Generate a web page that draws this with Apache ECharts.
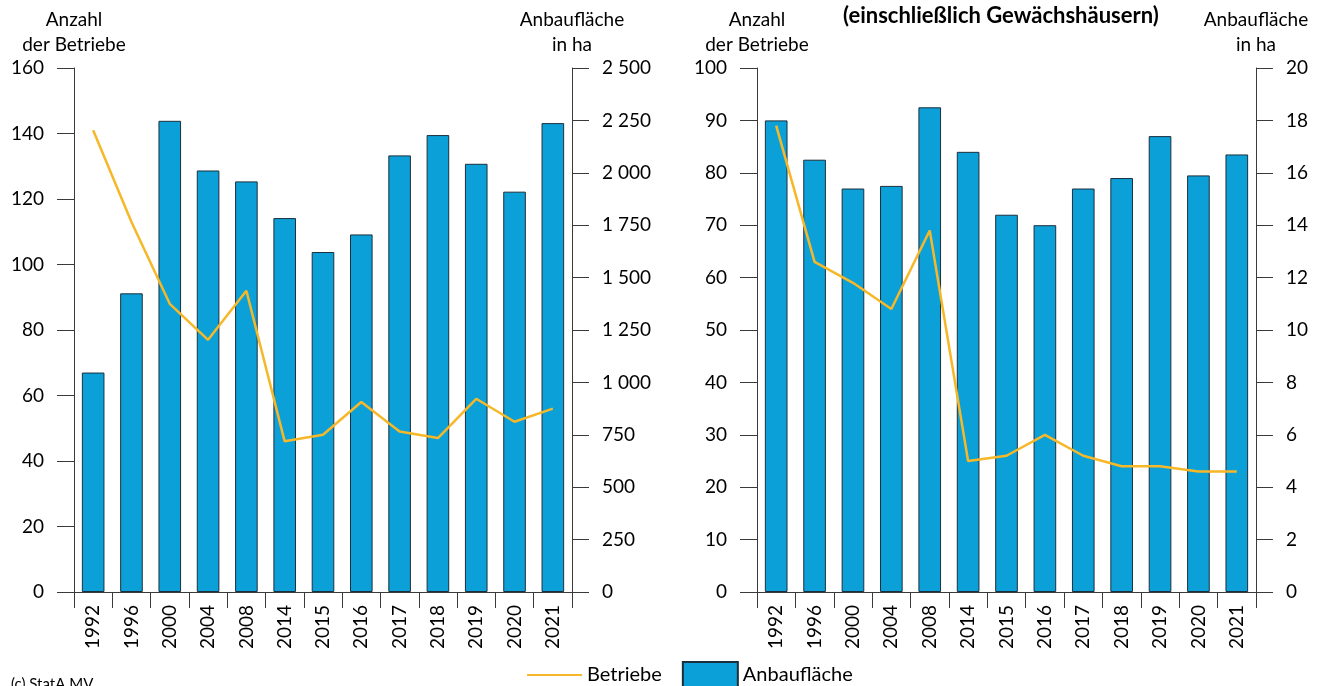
<!DOCTYPE html>
<html>
<head>
<meta charset="utf-8">
<script src="https://cdn.jsdelivr.net/npm/echarts@6/dist/echarts.min.js"></script>
<style>
  html, body { margin: 0; padding: 0; background: #fff; }
  #chart { width: 1331px; height: 686px; }
</style>
</head>
<body>
<div id="chart"></div>
<script>
// Jahre (Kategorien)
const years = ['1992', '1996', '2000', '2004', '2008', '2014', '2015', '2016', '2017', '2018', '2019', '2020', '2021']

// linkes Diagramm: Gemüse im Freiland
const betriebeLinks = [141, 113, 88, 77, 92, 46, 48, 58, 49, 47, 59, 52, 56]
const flaecheLinks = [1047, 1425, 2248, 2011, 1959, 1784, 1622, 1706, 2083, 2180, 2043, 1910, 2237]

// rechtes Diagramm: einschließlich Gewächshäusern
const betriebeRechts = [89, 63, 59, 54, 69, 25, 26, 30, 26, 24, 24, 23, 23]
const flaecheRechts = [18.0, 16.5, 15.4, 15.5, 18.5, 16.8, 14.4, 14.0, 15.4, 15.8, 17.4, 15.9, 16.7]

const FONT = 'Lato'
const BAR_COLOR = '#0ba1d8'
const LINE_COLOR = '#f6b728'
const AXIS_COLOR = '#3a3a3a'

// Tausendertrennzeichen mit Leerzeichen
function fmtThousands(v) {
  return String(v).replace(/\B(?=(\d{3})+(?!\d))/g, ' ')
}

function xAxisFor(gridIndex) {
  return {
    type: 'category',
    gridIndex: gridIndex,
    data: years,
    boundaryGap: true,
    axisLine: { lineStyle: { color: AXIS_COLOR, width: 1 } },
    axisTick: { show: true, alignWithLabel: false, length: 16, lineStyle: { color: AXIS_COLOR } },
    axisLabel: { rotate: 90, margin: 13, color: '#000', fontFamily: FONT, fontSize: 19 }
  }
}

function yAxisFor(gridIndex, position, max, interval, name, formatter) {
  return {
    type: 'value',
    gridIndex: gridIndex,
    position: position,
    min: 0,
    max: max,
    interval: interval,
    name: name,
    nameLocation: 'end',
    nameGap: 11,
    nameTextStyle: { color: '#000', fontFamily: FONT, fontSize: 19, lineHeight: 25, align: 'center' },
    splitLine: { show: false },
    axisLine: { show: true, lineStyle: { color: AXIS_COLOR, width: 1 } },
    axisTick: { show: true, length: 17, lineStyle: { color: AXIS_COLOR } },
    axisLabel: { margin: 30, color: '#000', fontFamily: FONT, fontSize: 19, formatter: formatter }
  }
}

const barStyle = { color: BAR_COLOR, borderColor: '#1c2f3c', borderWidth: 1 }

const chart = echarts.init(document.getElementById('chart'))

const option = {
  animation: false,
  backgroundColor: '#fff',
  textStyle: { fontFamily: FONT },
  grid: [
    { left: 74, right: 759, top: 68, bottom: 94, containLabel: false },
    { left: 757, right: 75, top: 68, bottom: 94, containLabel: false }
  ],
  legend: {
    left: 521,
    top: 656,
    itemWidth: 55,
    itemHeight: 26,
    itemGap: 20,
    textStyle: { color: '#000', fontFamily: FONT, fontSize: 20 },
    data: [
      { name: 'Betriebe', itemStyle: { opacity: 0 } },
      { name: 'Anbaufläche', icon: 'rect' }
    ]
  },
  xAxis: [xAxisFor(0), xAxisFor(1)],
  yAxis: [
    yAxisFor(0, 'left', 160, 20, 'Anzahl\nder Betriebe'),
    yAxisFor(0, 'right', 2500, 250, 'Anbaufläche\nin ha', fmtThousands),
    yAxisFor(1, 'left', 100, 10, 'Anzahl\nder Betriebe'),
    yAxisFor(1, 'right', 20, 2, 'Anbaufläche\nin ha')
  ],
  graphic: [
    {
      type: 'text', left: 843, top: 5,
      style: { text: '(einschließlich Gewächshäusern)', fill: '#000', font: 'bold 22px Lato' }
    },
    {
      type: 'text', left: 11, top: 677,
      style: { text: '(c) StatA MV', fill: '#000', font: '15px Lato' }
    }
  ],
  series: [
    {
      name: 'Anbaufläche', type: 'bar', xAxisIndex: 0, yAxisIndex: 1,
      data: flaecheLinks, barCategoryGap: '41%', itemStyle: barStyle, z: 2
    },
    {
      name: 'Betriebe', type: 'line', xAxisIndex: 0, yAxisIndex: 0,
      data: betriebeLinks, symbol: 'none', lineStyle: { color: LINE_COLOR, width: 2.5 },
      itemStyle: { color: LINE_COLOR }, z: 3
    },
    {
      name: 'Anbaufläche', type: 'bar', xAxisIndex: 1, yAxisIndex: 3,
      data: flaecheRechts, barCategoryGap: '41%', itemStyle: barStyle, z: 2
    },
    {
      name: 'Betriebe', type: 'line', xAxisIndex: 1, yAxisIndex: 2,
      data: betriebeRechts, symbol: 'none', lineStyle: { color: LINE_COLOR, width: 2.5 },
      itemStyle: { color: LINE_COLOR }, z: 3
    }
  ]
}

chart.setOption(option)
</script>
</body>
</html>
